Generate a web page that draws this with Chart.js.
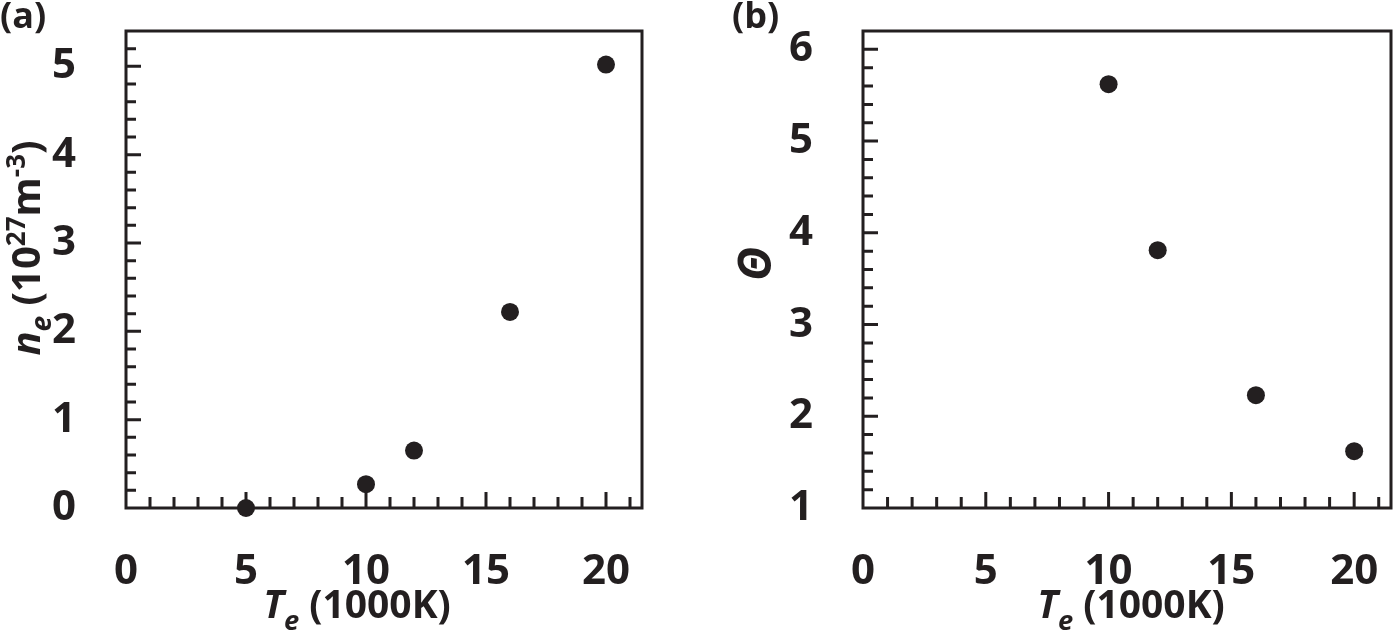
<!DOCTYPE html>
<html>
<head>
<meta charset="utf-8">
<script src="https://cdn.jsdelivr.net/npm/chart.js@4.4.0/dist/chart.umd.min.js"></script>
<style>
  html, body { margin: 0; padding: 0; background: #fff; }
  #wrap { width: 1400px; height: 637px; display: flex; }
  .panel { width: 700px; height: 637px; position: relative; }
  canvas { display: block; }
</style>
</head>
<body>
<div id="wrap">
  <div class="panel"><canvas id="chart-a" width="700" height="637"></canvas></div>
  <div class="panel"><canvas id="chart-b" width="700" height="637"></canvas></div>
</div>
<script>
// Data
const tempA = [5, 10, 12, 16, 20];
const densityA = [0, 0.27, 0.65, 2.22, 5.02];
const tempB = [10, 12, 16, 20];
const thetaB = [5.62, 3.81, 2.23, 1.62];

const xTickValues = [0, 5, 10, 15, 20];
const yTickValuesA = [0, 1, 2, 3, 4, 5];
const yTickValuesB = [1, 2, 3, 4, 5, 6];

const INK = '#231f20';
const FONT = '"Open Sans", "DejaVu Sans", sans-serif';

// draw a row of text pieces (italic / sub / sup) starting at x, baseline y
function runsWidth(ctx, runs, size) {
  let w = 0;
  runs.forEach(r => {
    ctx.font = `${r.it ? 'italic ' : ''}bold ${size * (r.s || 1)}px ${FONT}`;
    w += ctx.measureText(r.t).width;
  });
  return w;
}
function drawRuns(ctx, runs, x, y, size) {
  let cx = x;
  runs.forEach(r => {
    ctx.font = `${r.it ? 'italic ' : ''}bold ${size * (r.s || 1)}px ${FONT}`;
    ctx.fillText(r.t, cx, y + (r.dy || 0) * size);
    cx += ctx.measureText(r.t).width;
  });
}

// frame + inward major/minor ticks
const framePlugin = {
  id: 'frame',
  beforeDatasetsDraw(chart) {
    const { ctx, chartArea: a, scales: { x, y } } = chart;
    ctx.save();
    ctx.strokeStyle = INK;
    ctx.lineWidth = 3;
    ctx.beginPath();
    for (let v = 1; v <= x.max; v += 1) {
      const px = x.getPixelForValue(v);
      const len = v % 5 === 0 ? 16 : 11;
      ctx.moveTo(px, a.bottom);
      ctx.lineTo(px, a.bottom - len);
    }
    for (let i = 1; ; i++) {
      const v = y.min + i * 0.2;
      if (v > y.max - 1e-6) break;
      const py = y.getPixelForValue(v);
      const major = Math.abs(v - Math.round(v)) < 1e-6;
      ctx.moveTo(a.left, py);
      ctx.lineTo(a.left + (major ? 15 : 10), py);
    }
    ctx.stroke();
    ctx.strokeRect(a.left, a.top, a.right - a.left, a.bottom - a.top);
    ctx.restore();
  }
};

// panel letter + axis titles
const titlePlugin = {
  id: 'titles',
  afterDraw(chart, args, opts) {
    const ctx = chart.ctx;
    ctx.save();
    ctx.fillStyle = INK;
    ctx.textBaseline = 'alphabetic';
    ctx.textAlign = 'left';

    drawRuns(ctx, [{ t: opts.panel }], opts.panelX, 28, 36);

    const xw = runsWidth(ctx, opts.xTitle, 39);
    drawRuns(ctx, opts.xTitle, opts.xTitleX - xw / 2, 618, 39);

    ctx.translate(opts.yTitleX, opts.yTitleY);
    ctx.rotate(-Math.PI / 2);
    const yw = runsWidth(ctx, opts.yTitle, opts.yTitleSize);
    drawRuns(ctx, opts.yTitle, -yw / 2, 0, opts.yTitleSize);
    ctx.restore();
  }
};

const xTitleRuns = [
  { t: 'T', it: true },
  { t: 'e', it: true, s: 0.7, dy: 0.3 },
  { t: ' (1000K)' }
];

function makeChart(id, xs, ys, cfg) {
  const points = xs.map((v, i) => ({ x: v, y: ys[i] }));
  return new Chart(document.getElementById(id), {
    type: 'scatter',
    data: {
      datasets: [{
        data: points,
        backgroundColor: INK,
        borderWidth: 0,
        pointRadius: 9,
        pointHoverRadius: 9,
        clip: false
      }]
    },
    options: {
      responsive: false,
      animation: false,
      events: [],
      layout: { padding: { left: 0, top: 31, right: cfg.padRight, bottom: 0 } },
      plugins: {
        legend: { display: false },
        tooltip: { enabled: false },
        titles: cfg.titles
      },
      scales: {
        x: {
          type: 'linear',
          min: 0,
          max: 21.5,
          grid: { display: false },
          border: { display: false },
          afterBuildTicks: s => { s.ticks = xTickValues.map(v => ({ value: v })); },
          afterFit: s => { s.height = 129; s.paddingLeft = 0; s.paddingRight = 0; },
          ticks: {
            color: INK,
            padding: 31,
            maxRotation: 0,
            autoSkip: false,
            font: { family: FONT, size: 42, weight: 'bold' }
          }
        },
        y: {
          type: 'linear',
          min: cfg.yMin,
          max: cfg.yMax,
          grid: { display: false },
          border: { display: false },
          afterBuildTicks: s => { s.ticks = cfg.yTicks.map(v => ({ value: v })); },
          afterFit: s => { s.width = cfg.yWidth; s.paddingTop = 0; s.paddingBottom = 0; },
          ticks: {
            color: INK,
            padding: 42,
            font: { family: FONT, size: 42, weight: 'bold' }
          }
        }
      }
    },
    plugins: [framePlugin, titlePlugin]
  });
}

makeChart('chart-a', tempA, densityA, {
  yMin: 0, yMax: 5.4, yTicks: yTickValuesA, yWidth: 126, padRight: 58,
  titles: {
    panel: '(a)', panelX: 0,
    xTitle: xTitleRuns, xTitleX: 357,
    yTitleX: 40, yTitleY: 248, yTitleSize: 40,
    yTitle: [
      { t: 'n', it: true },
      { t: 'e', it: true, s: 0.7, dy: 0.28 },
      { t: ' (10' },
      { t: '27', s: 0.65, dy: -0.38 },
      { t: 'm' },
      { t: '-3', s: 0.65, dy: -0.38 },
      { t: ')' }
    ]
  }
});

makeChart('chart-b', tempB, thetaB, {
  yMin: 1, yMax: 6.2, yTicks: yTickValuesB, yWidth: 163, padRight: 3,
  titles: {
    panel: '(b)', panelX: 32,
    xTitle: xTitleRuns, xTitleX: 431,
    yTitleX: 71, yTitleY: 264, yTitleSize: 46,
    yTitle: [{ t: 'Θ', it: true }]
  }
});
</script>
</body>
</html>
